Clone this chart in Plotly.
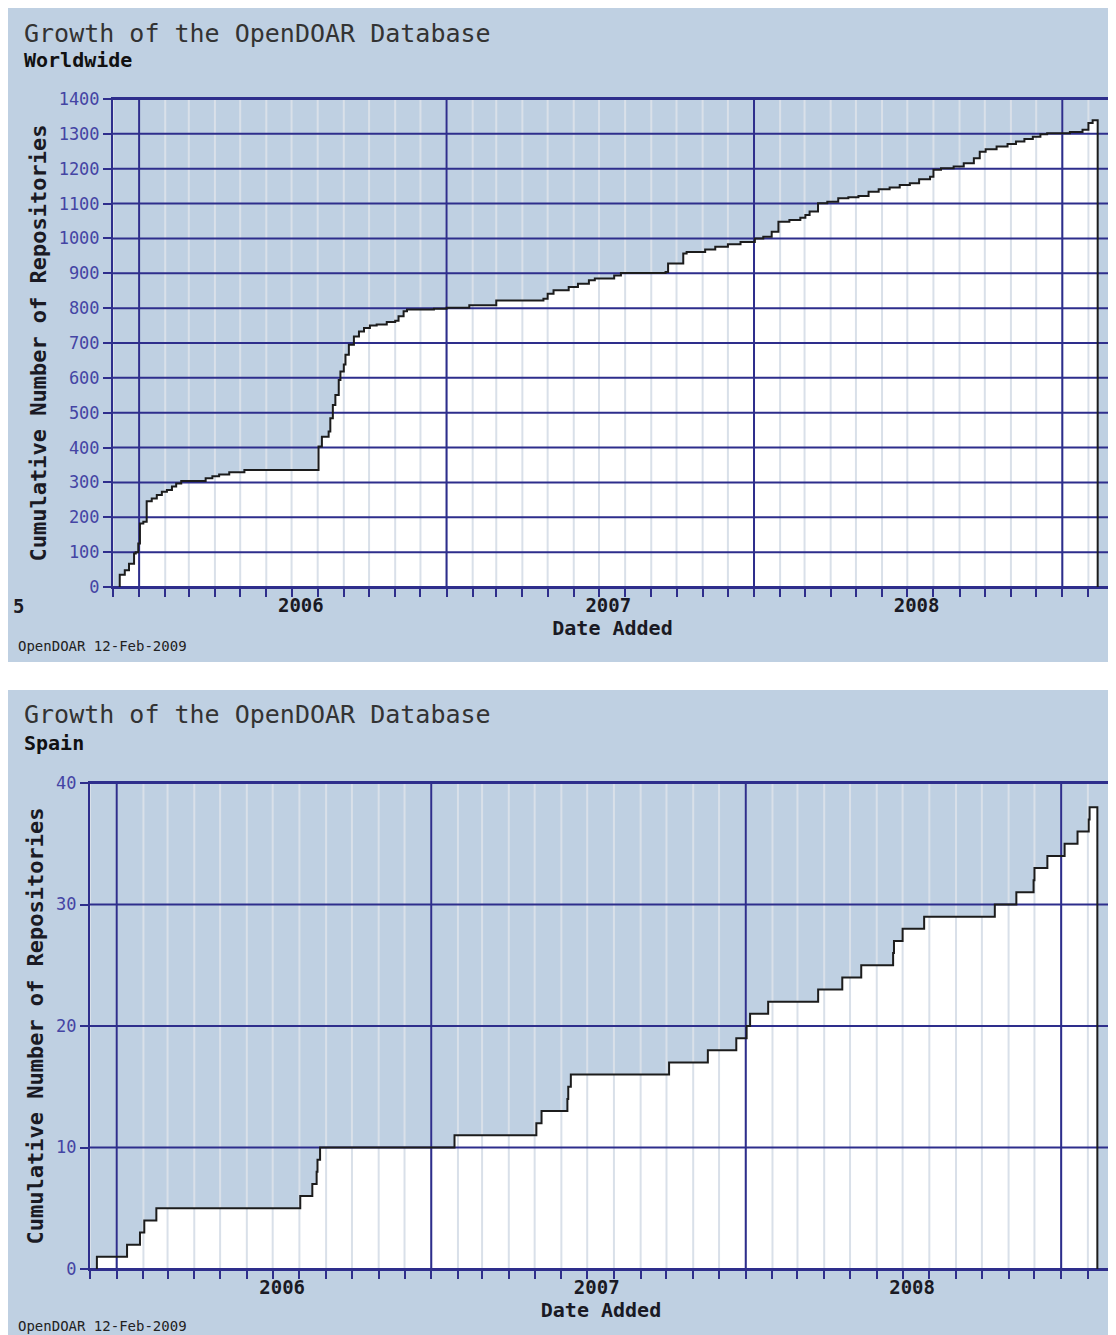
import plotly.graph_objects as go
import pandas as pd

# page body has an 8px margin, so the figure is sized to end exactly at the window edge
OFF = 8
W, H = 1116 - OFF, 1335 - OFF

# ---------------- data ----------------
ww_dates = [
    "2005-12-09", "2005-12-15", "2005-12-20", "2005-12-26", "2005-12-28", "2005-12-31",
    "2006-01-02", "2006-01-06", "2006-01-10", "2006-01-16", "2006-01-22", "2006-01-28",
    "2006-02-03", "2006-02-09", "2006-02-14", "2006-02-20", "2006-03-21", "2006-03-29",
    "2006-04-06", "2006-04-18", "2006-05-06", "2006-08-02", "2006-08-06", "2006-08-14",
    "2006-08-16", "2006-08-19", "2006-08-22", "2006-08-26", "2006-08-28", "2006-09-01",
    "2006-09-03", "2006-09-07", "2006-09-13", "2006-09-19", "2006-09-25", "2006-10-02",
    "2006-10-10", "2006-10-22", "2006-11-01", "2006-11-05", "2006-11-11", "2006-11-15",
    "2006-12-17", "2007-01-01", "2007-01-28", "2007-03-01", "2007-04-26", "2007-05-01",
    "2007-05-08", "2007-05-26", "2007-06-06", "2007-06-19", "2007-06-26", "2007-07-19",
    "2007-07-27", "2007-09-18", "2007-09-21", "2007-10-09", "2007-10-13", "2007-11-04",
    "2007-11-16", "2007-12-01", "2007-12-16", "2008-01-02", "2008-01-12", "2008-01-22",
    "2008-01-30", "2008-02-12", "2008-02-25", "2008-03-02", "2008-03-07", "2008-03-17",
    "2008-03-28", "2008-04-10", "2008-04-22", "2008-05-04", "2008-05-16", "2008-05-28",
    "2008-06-10", "2008-06-22", "2008-07-04", "2008-07-15", "2008-07-28", "2008-08-01",
    "2008-08-10", "2008-08-25", "2008-09-06", "2008-09-18", "2008-09-25", "2008-10-02",
    "2008-10-15", "2008-10-28", "2008-11-07", "2008-11-17", "2008-11-27", "2008-12-06",
    "2008-12-14", "2009-01-10", "2009-01-25", "2009-02-01", "2009-02-06",
]
ww_values = [
    35, 48, 67, 96, 100, 125,
    182, 187, 246, 254, 264, 273,
    278, 288, 297, 304, 312, 318,
    323, 329, 336, 403, 431, 446,
    484, 522, 551, 594, 618, 638,
    666, 695, 719, 733, 743, 750,
    753, 760, 764, 777, 791, 796,
    798, 801, 808, 822, 827, 841,
    851, 861, 870, 880, 885, 894,
    901, 904, 928, 957, 961, 968,
    976, 983, 990, 1000, 1005, 1019,
    1048, 1053, 1059, 1067, 1077, 1101,
    1105, 1115, 1118, 1122, 1134, 1141,
    1146, 1153, 1158, 1170, 1177, 1197,
    1201, 1206, 1216, 1230, 1249, 1256,
    1264, 1271, 1278, 1285, 1292, 1299,
    1302, 1305, 1312, 1331, 1339,
]

es_dates = [
    "2005-12-09", "2006-01-13", "2006-01-28", "2006-02-02", "2006-02-16", "2006-08-02",
    "2006-08-16", "2006-08-21", "2006-08-22", "2006-08-25", "2007-01-28", "2007-05-03",
    "2007-05-09", "2007-06-08", "2007-06-09", "2007-06-12", "2007-10-04", "2007-11-18",
    "2007-12-21", "2008-01-02", "2008-01-06", "2008-01-27", "2008-03-25", "2008-04-22",
    "2008-05-14", "2008-06-20", "2008-06-21", "2008-07-01", "2008-07-26", "2008-10-16",
    "2008-11-10", "2008-11-30", "2008-12-01", "2008-12-16", "2009-01-05", "2009-01-20",
    "2009-02-02", "2009-02-03",
]
es_values = [
    1, 2, 3, 4, 5, 6,
    7, 8, 9, 10, 11, 12,
    13, 14, 15, 16, 17, 18,
    19, 20, 21, 22, 23, 24,
    25, 26, 27, 28, 29, 30,
    31, 32, 33, 34, 35, 36,
    37, 38,
]

snapshot_end = "2009-02-12"
x_range = ["2005-12-01", "2009-03-01"]
year_label_dates = ["2006-07-12", "2007-07-12", "2008-07-12"]
year_labels = ["2006", "2007", "2008"]
year_lines = ["2006-01-01", "2007-01-01", "2008-01-01", "2009-01-01"]
ww_yticks = list(range(0, 1401, 100))
es_yticks = [0, 10, 20, 30, 40]

# ---------------- style ----------------
PANEL = "#bfd0e2"
NAVY = "#2e2e8c"
MONTH = "#d9e0e9"
CURVE = "#1c1c1c"
TICKBLUE = "#4444a4"
TXT = "#1a1a24"
MONO = "DejaVu Sans Mono"

month_lines = [d.strftime("%Y-%m-%d") for d in pd.date_range(x_range[0], x_range[1], freq="MS")]


def px(x):  # window x pixel -> paper
    return (x - OFF) / W


def py(y):  # window y pixel -> paper
    return 1 - (y - OFF) / H


fig = go.Figure()


def add_panel(dates, values, yticks, xa, ya):
    ymax = yticks[-1]
    xs = [dates[0]] + dates + [snapshot_end]
    ys = [0] + values + [0]
    # white area under the curve
    fig.add_trace(go.Scatter(x=xs, y=ys, mode="lines", line=dict(width=0, shape="hv"),
                             fill="tozeroy", fillcolor="white", xaxis=xa, yaxis=ya,
                             hoverinfo="skip", showlegend=False))
    # monthly light grid
    mx, my = [], []
    for m in month_lines:
        mx += [m, m, None]
        my += [0, ymax, None]
    fig.add_trace(go.Scatter(x=mx, y=my, mode="lines", line=dict(color=MONTH, width=2),
                             xaxis=xa, yaxis=ya, hoverinfo="skip", showlegend=False))
    # dark horizontal grid
    hx, hy = [], []
    for v in yticks:
        hx += [x_range[0], x_range[1], None]
        hy += [v, v, None]
    fig.add_trace(go.Scatter(x=hx, y=hy, mode="lines", line=dict(color=NAVY, width=2),
                             xaxis=xa, yaxis=ya, hoverinfo="skip", showlegend=False))
    # dark year lines
    vx, vy = [], []
    for d in year_lines:
        vx += [d, d, None]
        vy += [0, ymax, None]
    fig.add_trace(go.Scatter(x=vx, y=vy, mode="lines", line=dict(color=NAVY, width=2),
                             xaxis=xa, yaxis=ya, hoverinfo="skip", showlegend=False))
    # curve
    fig.add_trace(go.Scatter(x=xs, y=ys, mode="lines", line=dict(color=CURVE, width=2, shape="hv"),
                             xaxis=xa, yaxis=ya, showlegend=False))


add_panel(ww_dates, ww_values, ww_yticks, "x", "y")
add_panel(es_dates, es_values, es_yticks, "x2", "y2")


def xaxis_cfg(domain, anchor):
    return dict(
        domain=domain, anchor=anchor, type="date", range=x_range, automargin=False,
        tickmode="array", tickvals=year_label_dates, ticktext=year_labels, ticks="",
        tickfont=dict(family=MONO, size=19, color=TXT, weight="bold"),
        minor=dict(tickmode="array", tickvals=month_lines, ticks="outside", ticklen=8,
                   tickwidth=2, tickcolor=NAVY, showgrid=False),
        showgrid=False, zeroline=False, showline=True, linecolor=NAVY, linewidth=2, mirror=True,
        title=dict(text="Date Added", font=dict(family=MONO, size=20, color=TXT, weight="bold"),
                   standoff=2),
    )


def yaxis_cfg(domain, anchor, yticks):
    return dict(
        domain=domain, anchor=anchor, range=[0, yticks[-1]], automargin=False,
        tickmode="array", tickvals=yticks, ticks="outside", ticklen=8, tickwidth=2, tickcolor=NAVY,
        tickfont=dict(family=MONO, size=17, color=TICKBLUE),
        showgrid=False, zeroline=False, showline=True, linecolor=NAVY, linewidth=2, mirror=True,
        title=dict(text="Cumulative Number of Repositories",
                   font=dict(family=MONO, size=22, color=TXT, weight="bold"), standoff=6),
    )


fig.update_layout(
    width=W, height=H,
    margin=dict(l=0, r=0, t=0, b=0, pad=0, autoexpand=False),
    paper_bgcolor="white", plot_bgcolor=PANEL,
    xaxis=xaxis_cfg([px(113), px(1112)], "y"),
    yaxis=yaxis_cfg([py(587), py(99)], "x", ww_yticks),
    xaxis2=xaxis_cfg([px(90), px(1112)], "y2"),
    yaxis2=yaxis_cfg([py(1269), py(783)], "x2", es_yticks),
    showlegend=False,
    shapes=[
        dict(type="rect", xref="paper", yref="paper", x0=0, x1=1, y0=py(662), y1=1,
             fillcolor=PANEL, line=dict(width=0), layer="below"),
        dict(type="rect", xref="paper", yref="paper", x0=0, x1=1, y0=0, y1=py(690),
             fillcolor=PANEL, line=dict(width=0), layer="below"),
    ],
)


def note(text, xpx, ypx, size, color, weight="normal", xanchor="left"):
    fig.add_annotation(text=text, xref="paper", yref="paper", x=px(xpx), y=py(ypx),
                       xanchor=xanchor, yanchor="middle", showarrow=False,
                       font=dict(family=MONO, size=size, color=color, weight=weight))


note("Growth of the OpenDOAR Database", 22, 33, 25, "#333333")
note("Worldwide", 22, 60, 20, "#111111", "bold")
note("5", 18, 606, 19, TXT, "bold", "center")
note("OpenDOAR 12-Feb-2009", 16, 646, 14, "#222222")

note("Growth of the OpenDOAR Database", 22, 714, 25, "#333333")
note("Spain", 22, 743, 20, "#111111", "bold")
note("OpenDOAR 12-Feb-2009", 16, 1326, 14, "#222222")

fig.write_html("out.html")
